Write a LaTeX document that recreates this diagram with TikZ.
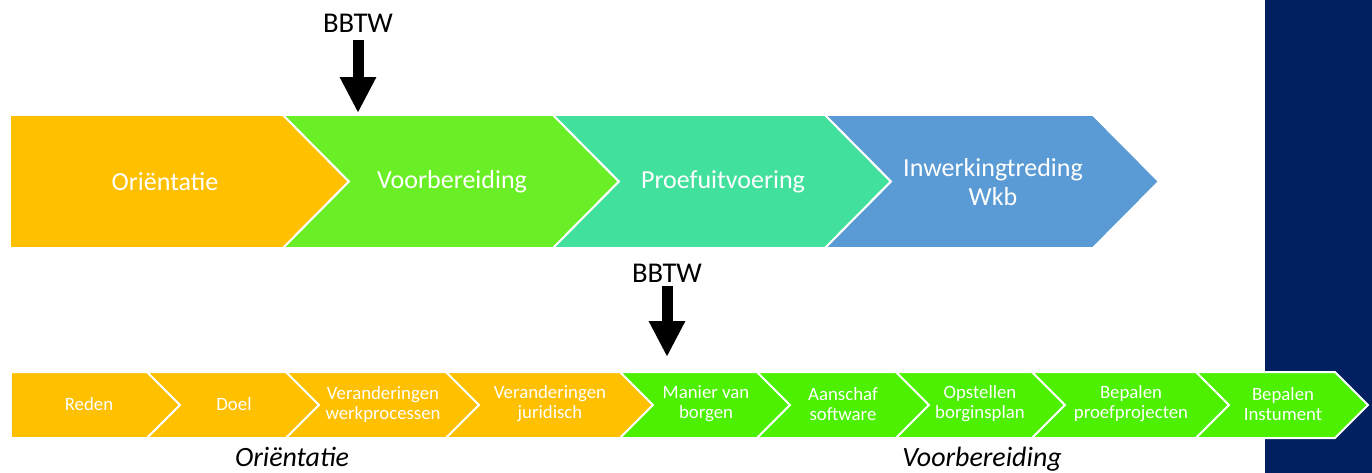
\documentclass[tikz,border=0pt]{standalone}
\usepackage{fontspec}
\setmainfont{Carlito}
\usetikzlibrary{arrows.meta}

\definecolor{oranje}{RGB}{255,192,0}
\definecolor{groen}{RGB}{106,239,38}
\definecolor{felgroen}{RGB}{76,240,0}
\definecolor{turkoois}{RGB}{66,224,157}
\definecolor{blauw}{RGB}{91,155,213}
\definecolor{marine}{RGB}{0,32,96}

\begin{document}
\begin{tikzpicture}[x=0.02cm, y=-0.02cm,
	fase/.style={draw=white, line width=0.04cm, line join=miter},
	fasetekst/.style={text=white, align=center, inner sep=0pt, font=\fontsize{14.8}{17}\selectfont},
	staptekst/.style={text=white, align=center, inner sep=0pt, font=\fontsize{10.7}{11.4}\selectfont},
	bbtwtekst/.style={anchor=base, inner sep=0pt, font=\fontsize{16.3}{19}\selectfont},
	fasenaam/.style={anchor=base, inner sep=0pt, font=\fontsize{15.9}{19}\selectfont\itshape},
	pijl/.style={line width=0.22cm, -{Triangle[width=0.68cm,length=0.72cm]}}]
	\useasboundingbox (0,0) rectangle (1372,473);

	%balk rechts
	\fill[marine] (1265,0) rectangle (1372,473);

	%fasen boven
	\filldraw[fase, fill=oranje] (10,115) -- (283,115) -- (349,181.5) -- (283,248) -- (10,248) -- cycle;
	\filldraw[fase, fill=groen] (283,115) -- (553,115) -- (619,181.5) -- (553,248) -- (283,248) -- (349,181.5) -- cycle;
	\filldraw[fase, fill=turkoois] (553,115) -- (825,115) -- (891,181.5) -- (825,248) -- (553,248) -- (619,181.5) -- cycle;
	\filldraw[fase, fill=blauw] (825,115) -- (1093,115) -- (1159,181.5) -- (1093,248) -- (825,248) -- (891,181.5) -- cycle;

	\node[fasetekst] (orientatie) at (165, 182) {Oriëntatie};
	\node[fasetekst] (voorbereiding) at (452, 182) {Voorbereiding};
	\node[fasetekst] (proef) at (723, 182) {Proefuitvoering};
	\node[fasetekst] (wkb) at (993, 182) {Inwerkingtreding\\Wkb};

	%stappen onder
	\filldraw[fase, fill=oranje] (11,372) -- (147,372) -- (180,405) -- (147,438) -- (11,438) -- cycle;
	\filldraw[fase, fill=oranje] (147,372) -- (286,372) -- (319,405) -- (286,438) -- (147,438) -- (180,405) -- cycle;
	\filldraw[fase, fill=oranje] (286,372) -- (446,372) -- (479,405) -- (446,438) -- (286,438) -- (319,405) -- cycle;
	\filldraw[fase, fill=oranje] (446,372) -- (620,372) -- (653,405) -- (620,438) -- (446,438) -- (479,405) -- cycle;
	\filldraw[fase, fill=felgroen] (620,372) -- (757,372) -- (790,405) -- (757,438) -- (620,438) -- (653,405) -- cycle;
	\filldraw[fase, fill=felgroen] (757,372) -- (896,372) -- (929,405) -- (896,438) -- (757,438) -- (790,405) -- cycle;
	\filldraw[fase, fill=felgroen] (896,372) -- (1032,372) -- (1065,405) -- (1032,438) -- (896,438) -- (929,405) -- cycle;
	\filldraw[fase, fill=felgroen] (1032,372) -- (1196,372) -- (1229,405) -- (1196,438) -- (1032,438) -- (1065,405) -- cycle;
	\filldraw[fase, fill=felgroen] (1196,372) -- (1335,372) -- (1368,405) -- (1335,438) -- (1196,438) -- (1229,405) -- cycle;

	\node[staptekst] (reden) at (89, 404) {Reden};
	\node[staptekst] (doel) at (234, 404) {Doel};
	\node[staptekst] (werkproc) at (383, 404) {Veranderingen\\werkprocessen};
	\node[staptekst] (juridisch) at (550, 404) {Veranderingen\\juridisch};
	\node[staptekst] (borgen) at (706, 404) {Manier van\\borgen};
	\node[staptekst] (software) at (843, 404) {Aanschaf\\software};
	\node[staptekst] (borgplan) at (980, 404) {Opstellen\\borginsplan};
	\node[staptekst] (proefproj) at (1131, 404) {Bepalen\\proefprojecten};
	\node[staptekst] (instument) at (1283, 404) {Bepalen\\Instument};

	%namen onder
	\node[fasenaam] (naamorient) at (292, 466) {Oriëntatie};
	\node[fasenaam] (naamvoorb) at (982, 466) {Voorbereiding};

	%pijlen BBTW
	\node[bbtwtekst] (bbtw1) at (358, 33) {BBTW};
	\coordinate (pijl1) at (358, 113);
	\draw[pijl, shorten <=0.14cm] (bbtw1.south) -- (pijl1);

	\node[bbtwtekst] (bbtw2) at (667, 282) {BBTW};
	\coordinate (pijl2) at (667, 357);
	\draw[pijl, shorten <=0.08cm] (bbtw2.south) -- (pijl2);
\end{tikzpicture}
\end{document}
